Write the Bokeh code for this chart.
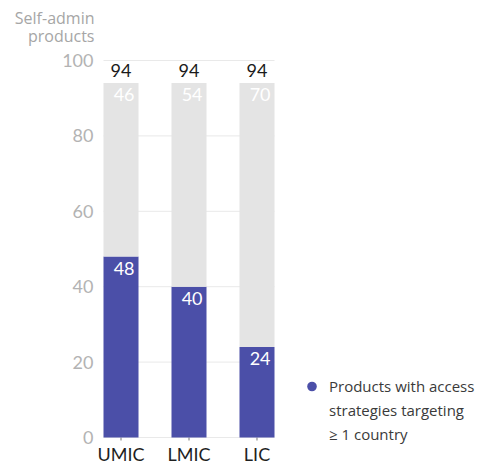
from bokeh.plotting import figure
from bokeh.models import (ColumnDataSource, Range1d, LabelSet, Label,
                          Legend, LegendItem)
from bokeh.core.properties import value
from bokeh.embed import file_html
from bokeh.resources import INLINE

# ---- data ----
categories = ["UMIC", "LMIC", "LIC"]
total_products = [94, 94, 94]
with_access = [48, 40, 24]
without_access = [46, 54, 70]
y_ticks = [0, 20, 40, 60, 80, 100]
y_title_lines = ["Self-admin", "products"]
legend_lines = ["Products with access", "strategies targeting", "\u2265 1 country"]

# ---- style / layout constants ----
PURPLE = "#4b4fa8"
GREY_BAR = "#e4e4e4"
GRID = "#e9e9e9"
FONT = value("Lato")
TXT_FONT = "Open Sans"
W, H = 479, 464
BAR_W = 0.515
HALF = BAR_W / 2
PX_X = 68.0            # pixels per category step
PX_Y = 3.77            # pixels per y unit
LEFT_PX, RIGHT_PX = 103, 205
TOP_PX, BOTTOM_PX = 60, 27

xs = list(range(len(categories)))
x_lo, x_hi = -HALF, xs[-1] + HALF

src = ColumnDataSource(dict(
    x=xs,
    x_right=[v + HALF for v in xs],
    zero=[0] * len(xs),
    tick_end=[-3 / PX_Y] * len(xs),
    total=total_products,
    access=with_access,
    access_mid=[v / 2 for v in with_access],
    total_txt=[str(v) for v in total_products],
    access_txt=[str(v) for v in with_access],
    rest_txt=[str(v) for v in without_access],
    cat=categories,
))
grid_src = ColumnDataSource(dict(
    y=y_ticks,
    x0=[x_lo] * len(y_ticks),
    x1=[x_hi] * len(y_ticks),
    txt=[str(t) for t in y_ticks],
))

p = figure(width=W, height=H, output_backend="svg", toolbar_location=None,
           x_axis_type=None, y_axis_type=None,
           x_range=Range1d(x_lo - LEFT_PX / PX_X, x_hi + RIGHT_PX / PX_X),
           y_range=Range1d(-BOTTOM_PX / PX_Y, 100 + TOP_PX / PX_Y),
           min_border=0)
p.outline_line_color = None
p.grid.visible = False

# horizontal grid lines (value axis)
p.segment(x0="x0", x1="x1", y0="y", y1="y", source=grid_src,
          line_color=GRID, line_width=1)
# category tick marks
p.segment(x0="x", x1="x", y0="zero", y1="tick_end", source=src,
          line_color="#777777", line_width=1)

# legend proxy dots (drawn first, hidden behind the purple bars)
dot = p.scatter(x="x", y="access_mid", source=src, marker="circle", size=10,
                fill_color=PURPLE, line_color=None)
# stacked bars
p.vbar(x="x", bottom=0, top="access", width=BAR_W, source=src,
       fill_color=PURPLE, line_color=None)
p.vbar(x="x", bottom="access", top="total", width=BAR_W, source=src,
       fill_color=GREY_BAR, line_color=None)

# value-axis tick labels
p.add_layout(LabelSet(x="x0", y="y", text="txt", source=grid_src,
                      x_offset=-10, text_align="right", text_baseline="middle",
                      text_font=FONT, text_font_size="18px", text_color="#b3b3b3"))
# category labels
p.add_layout(LabelSet(x="x", y="zero", text="cat", source=src,
                      y_offset=-5, text_align="center", text_baseline="top",
                      text_font=FONT, text_font_size="18px", text_color="#1f1f1f"))

# value labels
p.add_layout(LabelSet(x="x", y="total", text="total_txt", source=src,
                      y_offset=6, text_align="center", text_baseline="bottom",
                      text_font=FONT, text_font_size="18px", text_color="#1a1a1a"))
p.add_layout(LabelSet(x="x_right", y="total", text="rest_txt", source=src,
                      x_offset=-4, y_offset=-5, text_align="right", text_baseline="top",
                      text_font=FONT, text_font_size="18px", text_color="white"))
p.add_layout(LabelSet(x="x_right", y="access", text="access_txt", source=src,
                      x_offset=-4, y_offset=-5, text_align="right", text_baseline="top",
                      text_font=FONT, text_font_size="18px", text_color="white"))

# value-axis title, one Label per line, right-aligned left of the plot area
for i, line in enumerate(y_title_lines):
    p.add_layout(Label(x=x_lo, y=y_ticks[-1], x_offset=-9, y_offset=43 - 18 * i,
                       text=line, text_align="right", text_baseline="middle",
                       text_font=TXT_FONT, text_font_size="16px",
                       text_color="#a6a6a6"))

# series legend
blank = p.scatter(x=[], y=[], size=0, fill_alpha=0, line_alpha=0)
items = [LegendItem(label=legend_lines[0], renderers=[dot])]
items += [LegendItem(label=t, renderers=[blank]) for t in legend_lines[1:]]
leg = Legend(items=items, location=(299, 18), orientation="vertical",
             glyph_width=25, glyph_height=24, label_height=20, label_standoff=5,
             spacing=0, padding=0, margin=0, border_line_color=None,
             background_fill_alpha=0, label_text_font=TXT_FONT,
             label_text_font_size="15px", label_text_color="#3a3a3a")
p.add_layout(leg)

open("out.html", "w").write(file_html(p, INLINE))
